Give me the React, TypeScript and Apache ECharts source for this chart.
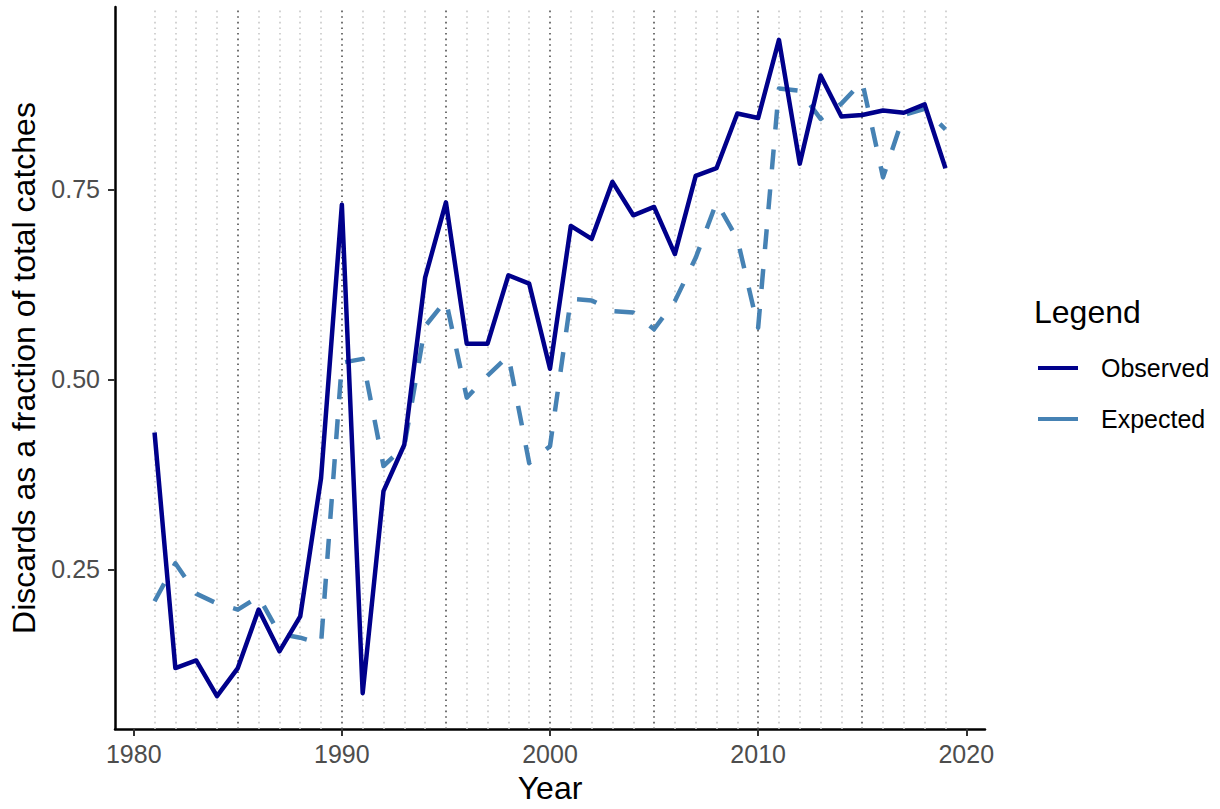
import React, { useEffect, useRef } from 'react';
import * as echarts from 'echarts';

const years = [
  1981, 1982, 1983, 1984, 1985, 1986, 1987, 1988, 1989, 1990,
  1991, 1992, 1993, 1994, 1995, 1996, 1997, 1998, 1999, 2000,
  2001, 2002, 2003, 2004, 2005, 2006, 2007, 2008, 2009, 2010,
  2011, 2012, 2013, 2014, 2015, 2016, 2017, 2018, 2019,
];

const observed = [
  0.430, 0.120, 0.130, 0.083, 0.120, 0.197, 0.142, 0.188, 0.370, 0.730,
  0.087, 0.353, 0.414, 0.634, 0.733, 0.547, 0.547, 0.637, 0.626, 0.514,
  0.702, 0.685, 0.760, 0.716, 0.727, 0.665, 0.768, 0.778, 0.850, 0.844,
  0.947, 0.784, 0.900, 0.846, 0.848, 0.854, 0.851, 0.862, 0.778,
];

const expected = [
  0.208, 0.258, 0.218, 0.205, 0.197, 0.214, 0.165, 0.160, 0.152, 0.522,
  0.527, 0.386, 0.412, 0.570, 0.604, 0.476, 0.505, 0.531, 0.390, 0.412,
  0.606, 0.604, 0.590, 0.588, 0.566, 0.603, 0.660, 0.733, 0.685, 0.568,
  0.883, 0.880, 0.843, 0.863, 0.892, 0.766, 0.848, 0.856, 0.829,
];

const xTickLabels = [1980, 1990, 2000, 2010, 2020];
const yTickLabels = [0.25, 0.5, 0.75];
const seriesNames = ['Observed', 'Expected'];
const legendTitle = 'Legend';
const xTitle = 'Year';
const yTitle = 'Discards as a fraction of total catches';

const FONT = '"Liberation Sans", Arial, Helvetica, sans-serif';
const OBS_COLOR = '#00008B';
const EXP_COLOR = '#4682B4';

export default function App() {
  const ref = useRef<HTMLDivElement>(null);

  useEffect(() => {
    document.body.style.margin = '0';
    const chart = echarts.init(ref.current!, null, { renderer: 'svg' });

    const x0 = years[0];
    const x1 = years[years.length - 1];
    const xPad = (x1 - x0) * 0.05;
    const allY = observed.concat(expected);
    const yLo = Math.min(...allY);
    const yHi = Math.max(...allY);
    const yPad = (yHi - yLo) * 0.05;

    const gridLines = years.map((y) => ({
      xAxis: y,
      lineStyle: {
        color: y % 5 === 0 ? '#505050' : '#c8c8c8',
        width: 1.6,
        type: [1.6, 4],
      },
    }));

    const option: any = {
      animation: false,
      backgroundColor: '#ffffff',
      textStyle: { fontFamily: FONT },
      grid: { left: 115, top: 7, width: 870, height: 722, containLabel: false },
      xAxis: {
        type: 'value',
        min: x0 - xPad,
        max: x1 + xPad,
        name: xTitle,
        nameLocation: 'middle',
        nameGap: 43,
        nameTextStyle: { fontSize: 32, color: '#000', fontFamily: FONT },
        axisLine: { show: true, onZero: false, lineStyle: { color: '#000', width: 2.5 } },
        axisTick: { show: true, length: 7, customValues: xTickLabels, lineStyle: { color: '#333', width: 2 } },
        axisLabel: {
          customValues: xTickLabels,
          color: '#4D4D4D',
          fontSize: 25,
          fontFamily: FONT,
          margin: 12,
          formatter: (v: number) => String(Math.round(v)),
        },
        splitLine: { show: false },
      },
      yAxis: {
        type: 'value',
        min: yLo - yPad,
        max: yHi + yPad,
        name: yTitle,
        nameLocation: 'middle',
        nameGap: 70,
        nameTextStyle: { fontSize: 32, color: '#000', fontFamily: FONT },
        axisLine: { show: true, onZero: false, lineStyle: { color: '#000', width: 2.5 } },
        axisTick: { show: true, length: 7, customValues: yTickLabels, lineStyle: { color: '#333', width: 2 } },
        axisLabel: {
          customValues: yTickLabels,
          color: '#4D4D4D',
          fontSize: 25,
          fontFamily: FONT,
          margin: 15,
          formatter: (v: number) => v.toFixed(2),
        },
        splitLine: { show: false },
      },
      series: [
        {
          name: 'grid',
          type: 'line',
          data: [],
          silent: true,
          z: 1,
          markLine: {
            silent: true,
            z: 1,
            symbol: ['none', 'none'],
            label: { show: false },
            emphasis: { disabled: true },
            data: gridLines,
          },
        },
        {
          name: seriesNames[1],
          type: 'line',
          z: 3,
          showSymbol: false,
          symbol: 'none',
          data: years.map((y, i) => [y, expected[i]]),
          lineStyle: { color: EXP_COLOR, width: 4.5, type: [20, 20], cap: 'butt', join: 'round' },
          itemStyle: { color: EXP_COLOR },
        },
        {
          name: seriesNames[0],
          type: 'line',
          z: 4,
          showSymbol: false,
          symbol: 'none',
          data: years.map((y, i) => [y, observed[i]]),
          lineStyle: { color: OBS_COLOR, width: 4.5, cap: 'butt', join: 'round' },
          itemStyle: { color: OBS_COLOR },
        },
      ],
      graphic: [
        {
          type: 'text',
          left: 1034,
          top: 296,
          style: { text: legendTitle, fontSize: 32, fill: '#000', fontFamily: FONT },
        },
        {
          type: 'line',
          shape: { x1: 1038, y1: 368, x2: 1078, y2: 368 },
          style: { stroke: OBS_COLOR, lineWidth: 4 },
        },
        {
          type: 'text',
          x: 1101,
          y: 368,
          style: { text: seriesNames[0], fontSize: 25, fill: '#000', fontFamily: FONT, verticalAlign: 'middle' },
        },
        {
          type: 'line',
          shape: { x1: 1038, y1: 419, x2: 1078, y2: 419 },
          style: { stroke: EXP_COLOR, lineWidth: 4 },
        },
        {
          type: 'text',
          x: 1101,
          y: 419,
          style: { text: seriesNames[1], fontSize: 25, fill: '#000', fontFamily: FONT, verticalAlign: 'middle' },
        },
      ],
    };

    chart.setOption(option);
    return () => chart.dispose();
  }, []);

  return (
    <div
      ref={ref}
      style={{ position: 'absolute', left: 0, top: 0, width: 1220, height: 809, background: '#fff' }}
    />
  );
}
